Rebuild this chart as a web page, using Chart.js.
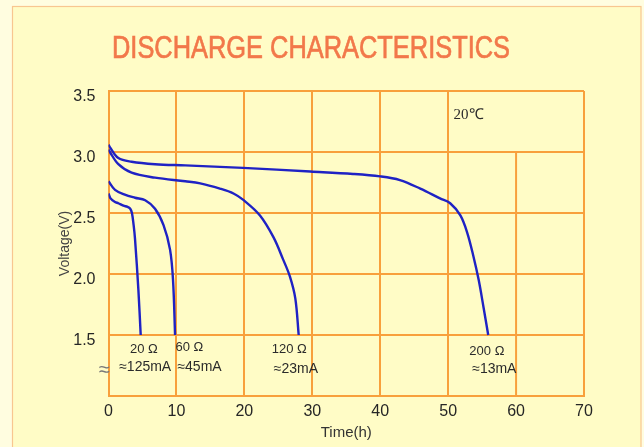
<!DOCTYPE html>
<html>
<head>
<meta charset="utf-8">
<script src="https://cdn.jsdelivr.net/npm/chart.js@4"></script>
<style>
  body { margin: 0; background: #fffde0; }
  #wrap { width: 644px; height: 447px; position: relative; }
</style>
</head>
<body>
<div id="wrap"><canvas id="GraficoDescarga"></canvas></div>
<script>
// datos (horas / voltios)
const hours20 = [0, 0.3, 0.96, 1.45, 2.2, 2.8, 3.2, 3.45, 3.7, 3.9, 4.4, 4.74];
const volts20 = [2.66, 2.62, 2.59, 2.58, 2.56, 2.55, 2.535, 2.5, 2.4, 2.29, 1.87, 1.5];

const hours60 = [0, 0.96, 2.4, 3.9, 5.4, 6.85, 8.1, 9.06, 9.5, 9.8];
const volts60 = [2.76, 2.69, 2.65, 2.625, 2.605, 2.535, 2.4, 2.2, 1.95, 1.5];

const hours120 = [0, 0.2, 1.45, 3.4, 6.85, 11.3, 13.5, 16.4, 18.4, 19.9, 22.3, 24.3, 25.7, 26.7, 27.5, 28.0];
const volts120 = [3.02, 3.0, 2.9, 2.83, 2.79, 2.76, 2.743, 2.7, 2.66, 2.605, 2.48, 2.3, 2.12, 1.98, 1.8, 1.5];

const hours200 = [0, 0.2, 1.45, 3.4, 6.85, 11.3, 19.8, 29.7, 36, 40, 42.9, 45.9, 48.8, 50.3, 51.8, 52.8, 53.7, 54.5, 55.2, 55.9];
const volts200 = [3.06, 3.04, 2.95, 2.92, 2.9, 2.89, 2.87, 2.84, 2.82, 2.8, 2.77, 2.7, 2.62, 2.58, 2.48, 2.34, 2.15, 1.95, 1.73, 1.5];

const xTicks = [0, 10, 20, 30, 40, 50, 60, 70];
const yTicks = [1.0, 1.5, 2.0, 2.5, 3.0, 3.5];

// etiquetas de cada curva: [hora, voltaje, texto]
const labelResist = [[5.2, 1.385, '20 Ω'], [11.9, 1.395, '60 Ω'], [26.6, 1.385, '120 Ω'], [55.7, 1.365, '200 Ω']];
const labelCurrent = [[5.4, 1.235, '≈125mA'], [13.4, 1.237, '≈45mA'], [27.6, 1.222, '≈23mA'], [56.8, 1.217, '≈13mA']];

function toPoints(xs, ys) {
  return xs.map((x, i) => ({ x: x, y: ys[i] }));
}

const GRID = '#f8a03c';
const BLUE = '#1f22c4';

const fondo = {
  id: 'fondo',
  beforeDraw(chart) {
    const c = chart.ctx;
    c.save();
    c.fillStyle = '#fffde0';
    c.fillRect(0, 0, chart.width, chart.height);
    c.fillStyle = '#fffcc6';
    c.fillRect(13, 6, 628, chart.height);
    c.strokeStyle = '#f8c690';
    c.lineWidth = 1.2;
    c.strokeRect(12.5, 6.5, 628.5, chart.height + 5);
    // titulo
    c.fillStyle = '#f2784a';
    c.strokeStyle = '#f2784a';
    c.lineWidth = 0.7;
    c.font = '32px "Liberation Sans"';
    c.textAlign = 'center';
    c.textBaseline = 'alphabetic';
    c.fillText('DISCHARGE CHARACTERISTICS', 311, 58, 398);
    c.strokeText('DISCHARGE CHARACTERISTICS', 311, 58, 398);
    c.restore();
  },
  beforeDatasetsDraw(chart) {
    // linea de 60h solo desde 3.0V hacia abajo
    const c = chart.ctx, x = chart.scales.x, y = chart.scales.y;
    c.save();
    c.strokeStyle = GRID;
    c.lineWidth = 2;
    c.beginPath();
    c.moveTo(x.getPixelForValue(60), y.getPixelForValue(3.0));
    c.lineTo(x.getPixelForValue(60), y.getPixelForValue(1.0));
    c.stroke();
    c.restore();
  },
  afterDatasetsDraw(chart) {
    const c = chart.ctx, x = chart.scales.x, y = chart.scales.y;
    c.save();
    c.fillStyle = '#2b2b2b';
    c.textAlign = 'center';
    c.textBaseline = 'middle';
    c.font = '13px "Liberation Sans"';
    labelResist.forEach(l => c.fillText(l[2], x.getPixelForValue(l[0]), y.getPixelForValue(l[1])));
    c.font = '14px "Liberation Sans"';
    labelCurrent.forEach(l => c.fillText(l[2], x.getPixelForValue(l[0]), y.getPixelForValue(l[1])));
    c.font = '15px "Liberation Serif"';
    c.fillText('20℃', x.getPixelForValue(53.0), y.getPixelForValue(3.3));
    c.fillStyle = '#777';
    c.font = '20px "Liberation Sans"';
    c.fillText('≈', x.getPixelForValue(-0.6), y.getPixelForValue(1.21));
    c.restore();
  }
};

const serie = (pts) => ({
  data: pts,
  borderColor: BLUE,
  borderWidth: 2.4,
  pointRadius: 0,
  fill: false,
  tension: 0.35
});

const GraficoDescarga = new Chart(document.getElementById('GraficoDescarga'), {
  type: 'line',
  data: {
    datasets: [
      serie(toPoints(hours20, volts20)),
      serie(toPoints(hours60, volts60)),
      serie(toPoints(hours120, volts120)),
      serie(toPoints(hours200, volts200))
    ]
  },
  options: {
    responsive: true,
    maintainAspectRatio: false,
    animation: false,
    layout: { padding: { left: 0, top: 91, right: 60, bottom: 0 } },
    plugins: { legend: { display: false }, tooltip: { enabled: false } },
    scales: {
      x: {
        type: 'linear',
        min: 0,
        max: 70,
        afterBuildTicks: (s) => { s.ticks = xTicks.map(v => ({ value: v })); },
        afterFit: (s) => { s.height = 51; },
        grid: {
          color: (ctx) => (ctx.tick && ctx.tick.value === 60) ? 'rgba(0,0,0,0)' : GRID,
          lineWidth: 2,
          drawTicks: false
        },
        border: { color: GRID, width: 2 },
        ticks: { color: '#262626', font: { family: 'Liberation Sans', size: 16 }, padding: 6, maxRotation: 0 },
        title: { display: true, text: 'Time(h)', color: '#333', font: { family: 'Liberation Sans', size: 15 }, padding: { bottom: 5, top: 0 } }
      },
      y: {
        type: 'linear',
        min: 1.0,
        max: 3.5,
        afterBuildTicks: (s) => { s.ticks = yTicks.map(v => ({ value: v })); },
        afterFit: (s) => { s.width = 108.5; },
        grid: { color: GRID, lineWidth: 2, drawTicks: false },
        border: { color: GRID, width: 2 },
        ticks: {
          color: '#262626',
          font: { family: 'Liberation Sans', size: 16 },
          padding: 13,
          labelOffset: 6,
          callback: (v) => v < 1.5 ? '' : v.toFixed(1)
        },
        title: { display: true, text: 'Voltage(V)', color: '#444', font: { family: 'Liberation Sans', size: 14 }, padding: { top: 57, bottom: 0 } }
      }
    }
  },
  plugins: [fondo]
});
</script>
</body>
</html>
